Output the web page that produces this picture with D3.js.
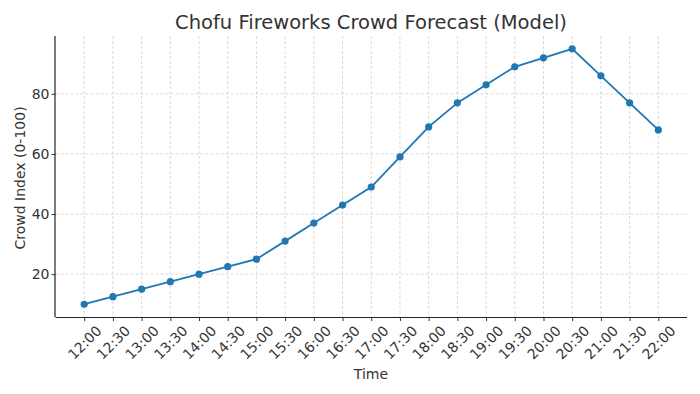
<!DOCTYPE html>
<html><head><meta charset="utf-8">
<script src="https://cdn.jsdelivr.net/npm/d3@7"></script>
<style>body{margin:0;background:#fff}svg text{font-family:"DejaVu Sans",sans-serif;fill:#333}</style>
</head><body>
<svg id="c" width="700" height="394"></svg>
<script>
const times = ["12:00","12:30","13:00","13:30","14:00","14:30","15:00","15:30","16:00","16:30","17:00","17:30","18:00","18:30","19:00","19:30","20:00","20:30","21:00","21:30","22:00"];
const crowd = [10,12.5,15,17.5,20,22.5,25,31,37,43,49,59,69,77,83,89,92,95,86,77,68];
const yTicks = [20,40,60,80];
const title = "Chofu Fireworks Crowd Forecast (Model)";
const xLabel = "Time";
const yLabel = "Crowd Index (0-100)";

const svg = d3.select("#c");
const L=55.5, R=687, T=36, B=317;
const x = d3.scaleLinear().domain([-1, times.length]).range([L, R]);
const y = d3.scaleLinear().domain([5.75, 99.25]).range([B, T]);

// grid
const g = svg.append("g");
g.selectAll(".vg").data(times).join("line")
 .attr("x1",(d,i)=>x(i)).attr("x2",(d,i)=>x(i)).attr("y1",T).attr("y2",B)
 .attr("stroke","#d0d0d0").attr("stroke-width",0.8).attr("stroke-dasharray","3,2");
g.selectAll(".hg").data(yTicks).join("line")
 .attr("x1",L).attr("x2",R).attr("y1",d=>y(d)).attr("y2",d=>y(d))
 .attr("stroke","#d0d0d0").attr("stroke-width",0.8).attr("stroke-dasharray","3,2");

// axes
const xAxis = d3.axisBottom(x).tickValues(d3.range(times.length)).tickFormat(i=>times[i]).tickSize(4);
const xa = svg.append("g").attr("transform",`translate(0,${B})`).call(xAxis);
xa.select(".domain").attr("d",`M${L},0.5H${R}`).attr("stroke","#222").attr("stroke-width",1.2);
xa.selectAll(".tick line").attr("stroke","#333");
xa.selectAll(".tick text").attr("font-size",14).attr("text-anchor","middle")
  .attr("y",0).attr("dy","0.35em").attr("transform","translate(0,25.5) rotate(-45)");

const yAxis = d3.axisLeft(y).tickValues(yTicks).tickSize(4).tickPadding(2);
const ya = svg.append("g").attr("transform",`translate(${L},0)`).call(yAxis);
ya.select(".domain").attr("d",`M-0.5,${T}V${B}`).attr("stroke","#222").attr("stroke-width",1.2);
ya.selectAll(".tick line").attr("stroke","#333");
ya.selectAll(".tick text").attr("font-size",14);
svg.selectAll(".tick text").style("fill","#333");

// line
svg.append("path").datum(crowd)
 .attr("d", d3.line().x((d,i)=>x(i)).y(d=>y(d)))
 .attr("fill","none").attr("stroke","#1f77b4").attr("stroke-width",1.8);
svg.selectAll(".pt").data(crowd).join("circle")
 .attr("cx",(d,i)=>x(i)).attr("cy",d=>y(d)).attr("r",3.6).attr("fill","#1f77b4");

// labels
svg.append("text").attr("x",371).attr("y",28.5).attr("text-anchor","middle").attr("font-size",19.5).text(title);
svg.append("text").attr("x",371).attr("y",378.5).attr("text-anchor","middle").attr("font-size",14).text(xLabel);
svg.append("text").attr("transform","translate(25,178) rotate(-90)").attr("text-anchor","middle").attr("font-size",14).text(yLabel);
</script>
</body></html>
